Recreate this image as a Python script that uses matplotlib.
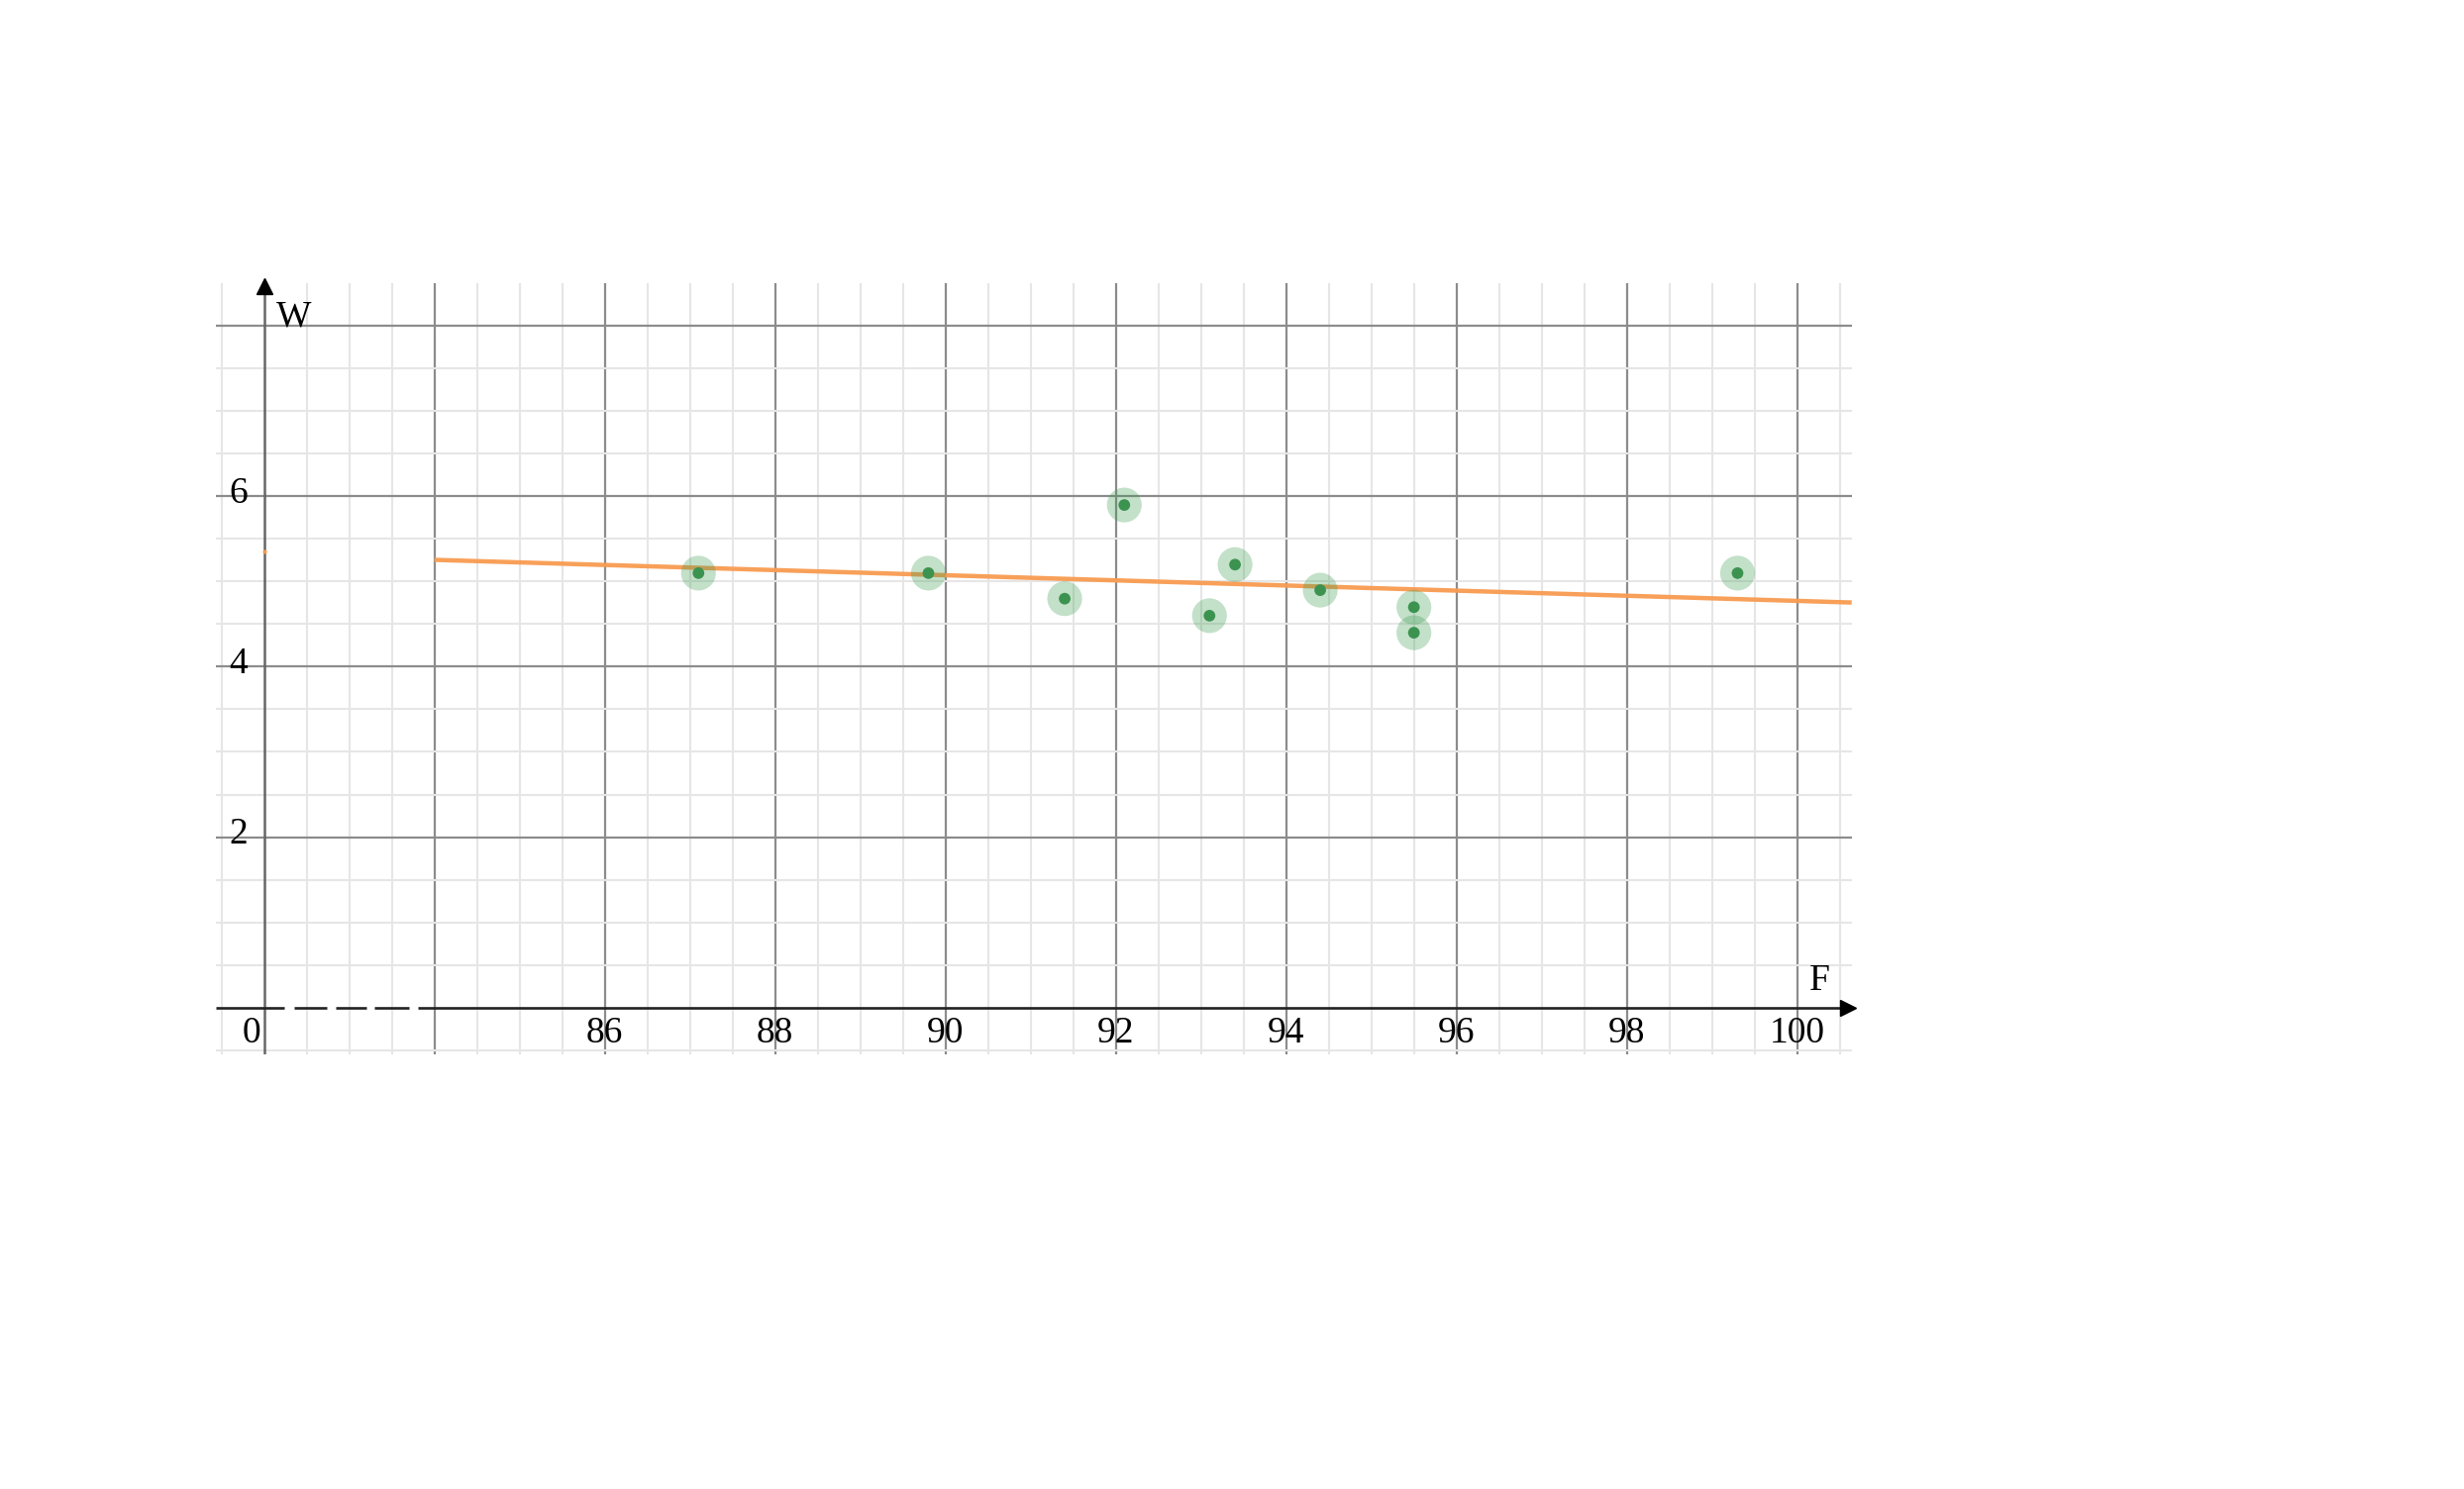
import numpy as np
import matplotlib
matplotlib.use("Agg")
import matplotlib.pyplot as plt

# ---- data ----
F_values = [87.1, 89.8, 91.4, 92.1, 93.1, 93.4, 94.4, 95.5, 95.5, 99.3]
W_values = [5.1, 5.1, 4.8, 5.9, 4.6, 5.2, 4.9, 4.7, 4.4, 5.1]
x_tick_values = [86, 88, 90, 92, 94, 96, 98, 100]
y_tick_values = [2, 4, 6]
x_label = "F"
y_label = "W"

# broken x-axis: F >= 84 shown shifted so that 84 sits at position 2
BREAK_REAL = 84.0
BREAK_POS = 2.0


def fx(f):
    return np.asarray(f, dtype=float) - BREAK_REAL + BREAK_POS


XMIN, XMAX = -0.56, 18.64
YMIN, YMAX = -0.55, 8.5

fig = plt.figure(figsize=(24.88, 15.04), dpi=100)
ax = fig.add_axes([0.08782, 0.29202, 0.66367, 0.51749])
ax.set_xlim(XMIN, XMAX)
ax.set_ylim(YMIN, YMAX)
ax.axis("off")

minor_c = "#e6e6e6"
major_c = "#8c8c8c"

# vertical grid
for u in np.arange(-0.5, 18.51, 0.5):
    is_major = abs(u - round(u)) < 1e-9 and int(round(u)) % 2 == 0
    if abs(u) < 1e-9:
        continue
    ax.plot([u, u], [YMIN, YMAX], color=major_c if is_major else minor_c,
            lw=1.6 if is_major else 1.5, zorder=1, solid_capstyle="butt")
# horizontal grid
for v in np.arange(-0.5, 8.01, 0.5):
    if abs(v) < 1e-9:
        continue
    is_major = abs(v - round(v)) < 1e-9 and int(round(v)) % 2 == 0
    ax.plot([XMIN, XMAX], [v, v], color=major_c if is_major else minor_c,
            lw=1.6 if is_major else 1.5, zorder=1, solid_capstyle="butt")

# y axis
ax.plot([0, 0], [YMIN, 8.45], color="#666666", lw=1.8, zorder=3)
ax.plot([0], [8.47], marker="^", color="black", markersize=11, clip_on=False, zorder=4)

# x axis with dashed break
ax.plot([XMIN, 0.24], [0, 0], color="#222222", lw=1.9, zorder=3, solid_capstyle="butt")
for a, b in [(0.35, 0.74), (0.84, 1.20), (1.29, 1.70)]:
    ax.plot([a, b], [0, 0], color="#222222", lw=1.9, zorder=3, solid_capstyle="butt")
ax.plot([1.81, 18.6], [0, 0], color="#222222", lw=1.9, zorder=3, solid_capstyle="butt")
ax.plot([18.6], [0], marker=">", color="black", markersize=11, clip_on=False, zorder=4)

# regression line
slope, intercept = np.polyfit(F_values, W_values, 1)
f_line = np.array([BREAK_REAL, BREAK_REAL + (XMAX - BREAK_POS)])
ax.plot(fx(f_line), slope * f_line + intercept, color="#f89b50", lw=3.2,
        zorder=5, solid_capstyle="butt", alpha=0.95)
ax.plot([0], [5.35], marker="o", color="#f79a4e", markersize=2, zorder=5)

# points
ax.scatter(fx(F_values), W_values, s=640, color="#3a9a4e", alpha=0.3,
           edgecolors="none", zorder=6)
ax.scatter(fx(F_values), W_values, s=72, color="#3c9350", edgecolors="none", zorder=7)

serif = ["Liberation Serif", "DejaVu Serif"]
fs = 27
for v in y_tick_values:
    ax.text(-0.19, v + 0.03, str(v), ha="right", va="center", fontsize=fs,
            family=serif, zorder=8)
for t in x_tick_values:
    ax.text(fx(t), -0.31, str(t), ha="center", va="center", fontsize=fs,
            family=serif, zorder=8)
ax.text(-0.15, -0.31, "0", ha="center", va="center", fontsize=fs, family=serif, zorder=8)
ax.text(18.26, 0.31, x_label, ha="center", va="center", fontsize=fs, family=serif, zorder=8)
ax.text(0.35, 8.11, y_label, ha="center", va="center", fontsize=fs, family=serif, zorder=8)

fig.savefig("out.png", dpi=100, facecolor="white")
